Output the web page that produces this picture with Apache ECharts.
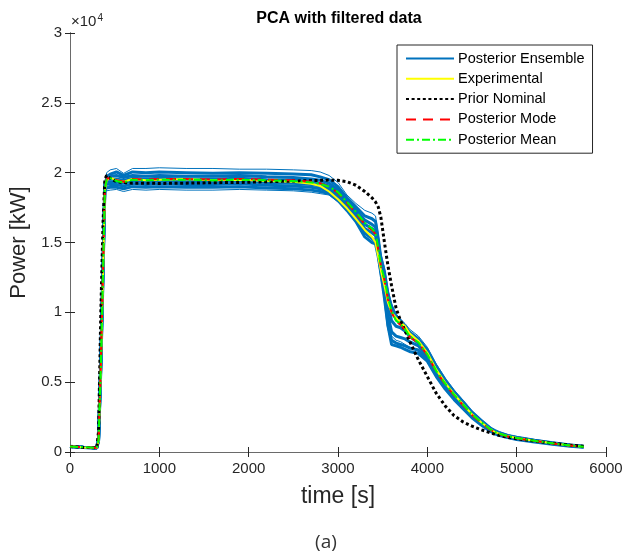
<!DOCTYPE html>
<html>
<head>
<meta charset="utf-8">
<title>PCA with filtered data</title>
<script src="https://cdn.jsdelivr.net/npm/echarts@6/dist/echarts.min.js"></script>
<style>
  html, body { margin: 0; padding: 0; background: #fff; }
  #pca_chart { width: 626px; height: 559px; }
</style>
</head>
<body>
<div id="pca_chart"></div>
<script>
// time grid [s], shared by every curve
const timeS = [0, 150, 300, 320, 345, 370, 390, 410, 450, 520, 600, 700, 850, 1000, 1300, 1600, 1900, 2200, 2500, 2700,
  2800, 2900, 3000, 3100, 3200, 3300, 3380, 3420, 3450, 3480, 3520, 3560, 3600, 3650, 3700, 3750, 3800, 3900, 4000, 4100,
  4200, 4300, 4400, 4500, 4600, 4700, 4750, 4800, 4900, 5000, 5200, 5400, 5600, 5750];

// power [kW]
const experimental = [420, 330, 290, 800, 6000, 12800, 18700, 19450, 19650, 19450, 19350, 19550, 19450, 19500, 19550, 19450, 19500, 19400, 19350, 19200,
  19050, 18650, 18100, 17450, 16700, 15900, 15400, 15000, 14000, 13000, 11900, 10700, 10000, 9600, 9300, 9000, 8500, 7950, 7100, 5900,
  4950, 4150, 3400, 2700, 2150, 1650, 1450, 1320, 1130, 1000, 800, 620, 470, 380];

const priorNominal = [400, 330, 300, 1500, 10000, 16500, 19500, 19800, 19600, 19350, 19300, 19250, 19250, 19230, 19250, 19280, 19300, 19350, 19400, 19430,
  19450, 19470, 19450, 19350, 19100, 18650, 18200, 17900, 17550, 16800, 15000, 13300, 11900, 10300, 9400, 8700, 7950, 6600, 5400, 4200,
  3300, 2600, 2150, 1850, 1600, 1380, 1290, 1200, 1050, 950, 780, 630, 490, 420];

const posteriorMode = [400, 340, 300, 950, 6300, 13100, 18900, 19550, 19650, 19450, 19350, 19550, 19500, 19550, 19550, 19500, 19550, 19500, 19450, 19350,
  19250, 19000, 18550, 17850, 17100, 16300, 15900, 15600, 14500, 13300, 12300, 10900, 10000, 9350, 9100, 8750, 8250, 7800, 6950, 5750,
  4850, 4050, 3350, 2650, 2100, 1620, 1430, 1300, 1110, 980, 790, 610, 460, 370];

const posteriorMean = [400, 340, 300, 900, 6200, 13000, 18800, 19500, 19600, 19400, 19300, 19500, 19450, 19500, 19500, 19450, 19500, 19450, 19400, 19300,
  19200, 19000, 18600, 17900, 17200, 16400, 16000, 15700, 14600, 13300, 12400, 11000, 10100, 9400, 9150, 8800, 8300, 7850, 7000, 5800,
  4900, 4100, 3400, 2700, 2150, 1650, 1450, 1320, 1130, 1000, 800, 620, 470, 380];

// posterior ensemble members
const ens1 = [420, 350, 310, 700, 5600, 12400, 18600, 20000, 20200, 20300, 19950, 20300, 20300, 20350, 20300, 20300, 20250, 20250, 20200, 20150,
  20050, 19800, 19300, 18400, 17800, 17300, 17100, 16900, 15600, 14200, 13200, 11600, 10600, 9900, 9500, 9200, 8800, 8300, 7500, 6300,
  5300, 4450, 3700, 2950, 2350, 1800, 1600, 1450, 1230, 1100, 880, 680, 520, 420];
const ens2 = [410, 345, 305, 800, 5900, 12700, 18700, 19700, 19900, 20050, 19800, 20050, 20000, 20050, 20000, 19950, 20000, 19950, 19900, 19850,
  19700, 19500, 19000, 18200, 17550, 16900, 16700, 16500, 15300, 13900, 12900, 11300, 10400, 9700, 9400, 9000, 8600, 8100, 7300, 6150,
  5150, 4300, 3600, 2850, 2280, 1740, 1550, 1400, 1190, 1060, 850, 660, 505, 405];
const ens3 = [400, 340, 300, 850, 6100, 13000, 18900, 19600, 19750, 19800, 19650, 19800, 19750, 19800, 19750, 19750, 19800, 19700, 19650, 19550,
  19450, 19250, 18800, 18050, 17350, 16600, 16300, 16100, 15000, 13600, 12600, 11100, 10200, 9500, 9200, 8850, 8450, 7950, 7150, 6000,
  5050, 4200, 3500, 2780, 2220, 1700, 1500, 1370, 1160, 1030, 830, 640, 490, 395];
const ens4 = [400, 340, 300, 900, 6300, 13200, 19000, 19500, 19550, 19550, 19450, 19600, 19550, 19600, 19550, 19550, 19600, 19500, 19450, 19350,
  19250, 19050, 18600, 17850, 17150, 16300, 16000, 15800, 14700, 13300, 12200, 10600, 9400, 9000, 8900, 8650, 8300, 7800, 7000, 5850,
  4950, 4100, 3400, 2700, 2150, 1650, 1460, 1320, 1130, 1000, 800, 620, 470, 380];
const ens5 = [395, 335, 295, 950, 6500, 13400, 19100, 19300, 19350, 19350, 19250, 19400, 19350, 19400, 19350, 19350, 19400, 19300, 19250, 19150,
  19050, 18850, 18400, 17650, 16900, 16000, 15700, 15500, 14400, 13000, 11800, 9800, 8600, 8300, 8200, 8100, 7900, 7600, 6850, 5700,
  4800, 4000, 3300, 2620, 2080, 1600, 1420, 1280, 1100, 970, 780, 605, 460, 370];
const ens6 = [390, 330, 290, 1000, 6700, 13600, 19200, 19100, 19150, 19150, 19050, 19200, 19150, 19200, 19150, 19150, 19200, 19100, 19050, 18950,
  18850, 18650, 18200, 17450, 16700, 15700, 15300, 15100, 14200, 12900, 11300, 9100, 8000, 7800, 7700, 7600, 7450, 7300, 6700, 5550,
  4650, 3880, 3200, 2540, 2020, 1560, 1380, 1250, 1070, 940, 760, 590, 450, 360];
const ens7 = [390, 330, 290, 1100, 6900, 13800, 19300, 18900, 18950, 18950, 18850, 19000, 18950, 19000, 18950, 18950, 19000, 18900, 18850, 18750,
  18650, 18500, 18000, 17300, 16500, 15400, 15000, 14900, 14000, 12800, 11000, 9000, 7700, 7600, 7500, 7350, 7200, 7050, 6500, 5400,
  4500, 3750, 3100, 2450, 1950, 1500, 1320, 1200, 1030, 900, 720, 560, 420, 340];
const ens8 = [385, 325, 285, 1200, 7100, 14000, 19400, 18700, 18750, 18800, 18650, 18800, 18750, 18800, 18750, 18750, 18800, 18750, 18700, 18600,
  18500, 18400, 17900, 17300, 16600, 15600, 15200, 15000, 14100, 12900, 11500, 9600, 8300, 8000, 7900, 7700, 7500, 7200, 6600, 5500,
  4600, 3800, 3150, 2500, 2000, 1530, 1350, 1230, 1050, 920, 740, 575, 435, 350];
const ensemble = [ens1, ens2, ens3, ens4, ens5, ens6, ens7, ens8];

const xTicks = [0, 1000, 2000, 3000, 4000, 5000, 6000];
const yTicks = [0, 5000, 10000, 15000, 20000, 25000, 30000];

const chart = echarts.init(document.getElementById("pca_chart"));

const toPoints = (values) => timeS.map((t, i) => [t, values[i]]);

const lineSeries = (name, values, color, width, type) => ({
  name: name,
  type: "line",
  symbol: "none",
  silent: true,
  data: toPoints(values),
  itemStyle: { color: color },
  lineStyle: { color: color, width: width, type: type },
});

const series = [];
ensemble.forEach((member, i) => {
  // outer members thin, the rest thick so the band looks filled
  const w = i === 0 || i === ensemble.length - 1 ? 1 : 3;
  series.push(lineSeries("Posterior Ensemble", member, "#0072BD", w, "solid"));
});
series.push(lineSeries("Experimental", experimental, "#FFFF00", 2, "solid"));
series.push(lineSeries("Prior Nominal", priorNominal, "#000000", 3, [3, 2.6]));
series.push(lineSeries("Posterior Mode", posteriorMode, "#FF0000", 2, [10, 7]));
series.push(lineSeries("Posterior Mean", posteriorMean, "#00FF00", 2, [8, 3, 2, 3]));

const font = "'Liberation Sans', Arial, sans-serif";
const axisColor = "#262626";

const option = {
  animation: false,
  backgroundColor: "#fff",
  textStyle: { fontFamily: font },
  grid: { left: 70, top: 33, width: 536, height: 419, containLabel: false },
  legend: {
    orient: "vertical",
    left: 397,
    top: 45,
    padding: [6, 8, 6, 8],
    itemWidth: 48,
    itemHeight: 14,
    itemGap: 5.3,
    backgroundColor: "#fff",
    borderColor: "#262626",
    borderWidth: 1,
    selectedMode: false,
    itemStyle: { opacity: 0 },
    textStyle: { fontFamily: font, fontSize: 14.5, lineHeight: 15, color: "#000", padding: [0, 0, 0, -1] },
    data: ["Posterior Ensemble", "Experimental", "Prior Nominal", "Posterior Mode", "Posterior Mean"],
  },
  xAxis: [
    {
      type: "value",
      min: xTicks[0],
      max: xTicks[xTicks.length - 1],
      interval: 1000,
      name: "time [s]",
      nameLocation: "middle",
      nameGap: 33,
      nameTextStyle: { fontSize: 23, color: axisColor, fontFamily: font },
      axisLine: { show: true, lineStyle: { color: axisColor, width: 1 } },
      axisTick: { show: true, inside: true, length: 5, lineStyle: { color: axisColor } },
      axisLabel: { fontSize: 15, color: axisColor, margin: 9, fontFamily: font, formatter: (v) => String(v) },
      splitLine: { show: false },
    },
    {
      type: "value",
      position: "top",
      min: xTicks[0],
      max: xTicks[xTicks.length - 1],
      interval: 1000,
      axisLine: { show: true, lineStyle: { color: "#6a6a6a", width: 1 } },
      axisTick: { show: true, inside: true, length: 5, lineStyle: { color: axisColor } },
      axisLabel: { show: false },
      splitLine: { show: false },
    },
  ],
  yAxis: [
    {
      type: "value",
      min: yTicks[0],
      max: yTicks[yTicks.length - 1],
      interval: 5000,
      name: "Power [kW]",
      nameLocation: "middle",
      nameGap: 32,
      nameTextStyle: { fontSize: 22, color: axisColor, fontFamily: font },
      axisLine: { show: true, lineStyle: { color: axisColor, width: 1 } },
      axisTick: { show: true, inside: true, length: 5, lineStyle: { color: axisColor } },
      axisLabel: { fontSize: 15, color: axisColor, margin: 8, fontFamily: font, formatter: (v) => String(v / 10000) },
      splitLine: { show: false },
    },
    {
      type: "value",
      position: "right",
      min: yTicks[0],
      max: yTicks[yTicks.length - 1],
      interval: 5000,
      axisLine: { show: true, lineStyle: { color: "#6a6a6a", width: 1 } },
      axisTick: { show: true, inside: true, length: 5, lineStyle: { color: axisColor } },
      axisLabel: { show: false },
      splitLine: { show: false },
    },
  ],
  graphic: [
    {
      type: "text",
      x: 339,
      y: 19,
      style: {
        text: "PCA with filtered data",
        fontFamily: font,
        fontSize: 16,
        fontWeight: "bold",
        fill: "#000",
        textAlign: "center",
        textVerticalAlign: "middle",
      },
    },
    {
      type: "text",
      x: 71,
      y: 22,
      style: {
        text: "{a|×10}{b|4}",
        textVerticalAlign: "middle",
        rich: {
          a: { fontFamily: font, fontSize: 15, fill: axisColor },
          b: { fontFamily: font, fontSize: 10, fill: axisColor, verticalAlign: "top", padding: [0, 0, 8, 1] },
        },
      },
    },
    {
      type: "text",
      x: 326,
      y: 543,
      style: {
        text: "(a)",
        fontFamily: "'Open Sans', sans-serif",
        fontSize: 19,
        fill: "#333",
        textAlign: "center",
        textVerticalAlign: "middle",
      },
    },
  ],
  series: series,
};

chart.setOption(option);
</script>
</body>
</html>
